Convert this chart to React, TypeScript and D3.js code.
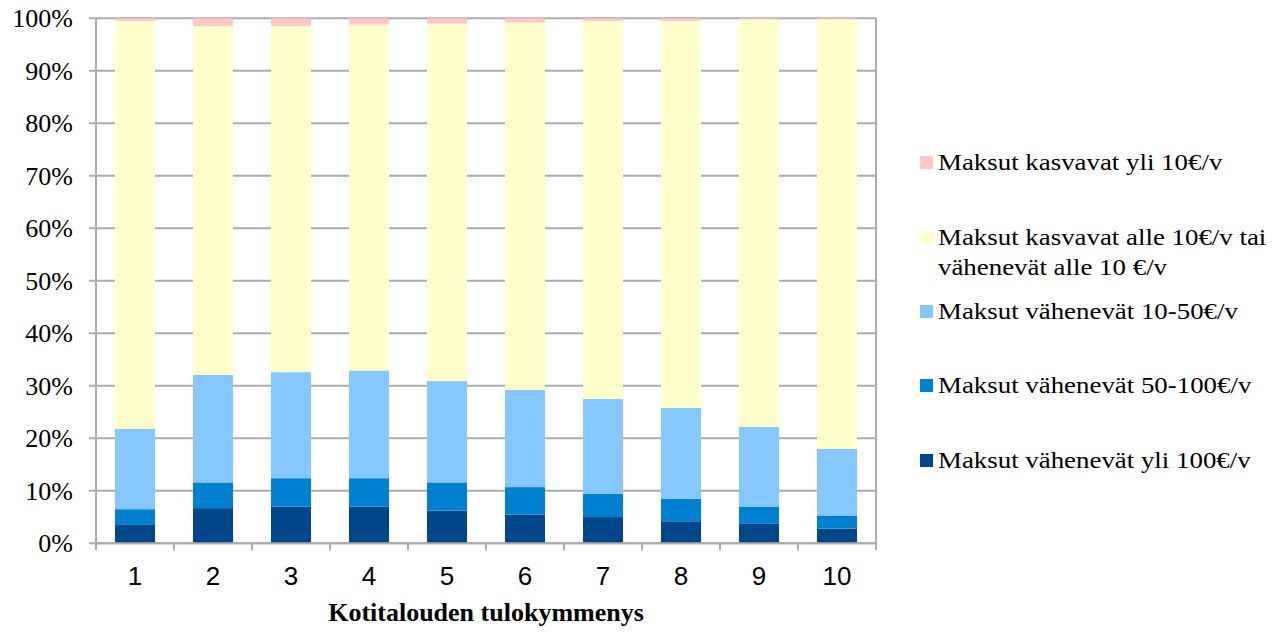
import React from 'react';
import * as d3 from 'd3';

// income deciles
const deciles = ['1', '2', '3', '4', '5', '6', '7', '8', '9', '10'];

// shares in % per decile, bottom to top
const over100 = [3.5, 6.7, 7.0, 7.0, 6.2, 5.5, 5.0, 4.2, 3.8, 2.8];
const from50to100 = [3.0, 4.9, 5.4, 5.4, 5.4, 5.2, 4.4, 4.3, 3.2, 2.5];
const from10to50 = [15.3, 20.5, 20.2, 20.5, 19.3, 18.5, 18.1, 17.3, 15.2, 12.7];
const under10 = [77.7, 66.4, 65.9, 65.9, 68.1, 70.0, 72.0, 73.7, 77.6, 81.8];
const growOver10 = [0.5, 1.5, 1.5, 1.2, 1.0, 0.8, 0.5, 0.5, 0.2, 0.2];

const seriesKeys = ['over100', 'from50to100', 'from10to50', 'under10', 'growOver10'];
const seriesLabels = [
  ['Maksut vähenevät yli 100€/v'],
  ['Maksut vähenevät 50-100€/v'],
  ['Maksut vähenevät 10-50€/v'],
  ['Maksut kasvavat alle 10€/v tai', 'vähenevät alle 10 €/v'],
  ['Maksut kasvavat yli 10€/v'],
];
const colors = ['#00468B', '#0080D0', '#85C8FF', '#FFFFCC', '#FFC8C8'];
const yTicks = [0, 10, 20, 30, 40, 50, 60, 70, 80, 90, 100];

const App = () => {
  const width = 1284;
  const height = 633;
  const left = 96;
  const right = 876;
  const top = 18.3;
  const bottom = 543.3;

  const rows = deciles.map((d, i) => ({
    decile: d,
    over100: over100[i],
    from50to100: from50to100[i],
    from10to50: from10to50[i],
    under10: under10[i],
    growOver10: growOver10[i],
  }));
  const stacked = d3.stack().keys(seriesKeys)(rows as any);

  const x = d3.scaleBand().domain(deciles).range([left, right]).paddingInner(0.487).paddingOuter(0.2435);
  const y = d3.scaleLinear().domain([0, 100]).range([bottom, top]);
  const step = x.step();
  const grid = '#ABABAB';
  const serif = '"Liberation Serif", "Times New Roman", serif';

  // legend rows from top: reversed series order
  const legendBase = [170, 245, 319, 393, 468];

  return (
    <svg width={width} height={height} style={{ position: 'absolute', left: 0, top: 0, background: '#fff' }}>
      {yTicks.map((t) => (
        <g key={t}>
          <line x1={left - 7} x2={right} y1={y(t)} y2={y(t)} stroke={grid} strokeWidth={2} />
          <text x={73} y={y(t) + 9} textAnchor="end" fontFamily={serif} fontSize={26} fill="#000">
            {t}%
          </text>
        </g>
      ))}
      {stacked.map((s, si) => (
        <g key={s.key} fill={colors[si]}>
          {s.map((d: any, i) => (
            <rect
              key={i}
              x={x(deciles[i])}
              y={y(d[1])}
              width={x.bandwidth()}
              height={y(d[0]) - y(d[1])}
            />
          ))}
        </g>
      ))}
      <line x1={left} x2={left} y1={top} y2={bottom} stroke={grid} strokeWidth={2} />
      <line x1={right} x2={right} y1={top} y2={bottom + 7} stroke={grid} strokeWidth={2} />
      <line x1={left} x2={right} y1={bottom} y2={bottom} stroke={grid} strokeWidth={2} />
      {deciles.map((d, i) => (
        <line key={d} x1={left + i * step} x2={left + i * step} y1={bottom} y2={bottom + 7} stroke={grid} strokeWidth={2} />
      ))}
      {deciles.map((d) => (
        <text
          key={d}
          x={(x(d) as number) + x.bandwidth() / 2}
          y={585}
          textAnchor="middle"
          fontFamily='"Liberation Sans", Arial, sans-serif'
          fontSize={26}
          fill="#000"
        >
          {d}
        </text>
      ))}
      <text x={(left + right) / 2} y={621} textAnchor="middle" fontFamily={serif} fontWeight="bold" fontSize={26} fill="#000">
        Kotitalouden tulokymmenys
      </text>
      {seriesLabels
        .map((lines, si) => ({ lines, si }))
        .reverse()
        .map(({ lines, si }, k) => (
          <g key={si}>
            <rect x={920} y={legendBase[k] - 14} width={13} height={13} fill={colors[si]} />
            {lines.map((ln, li) => (
              <text
                key={li}
                transform={`translate(938,${legendBase[k] + li * 30}) scale(1.12,1)`}
                fontFamily={serif}
                fontSize={24}
                fill="#000"
              >
                {ln}
              </text>
            ))}
          </g>
        ))}
    </svg>
  );
};

export default App;
